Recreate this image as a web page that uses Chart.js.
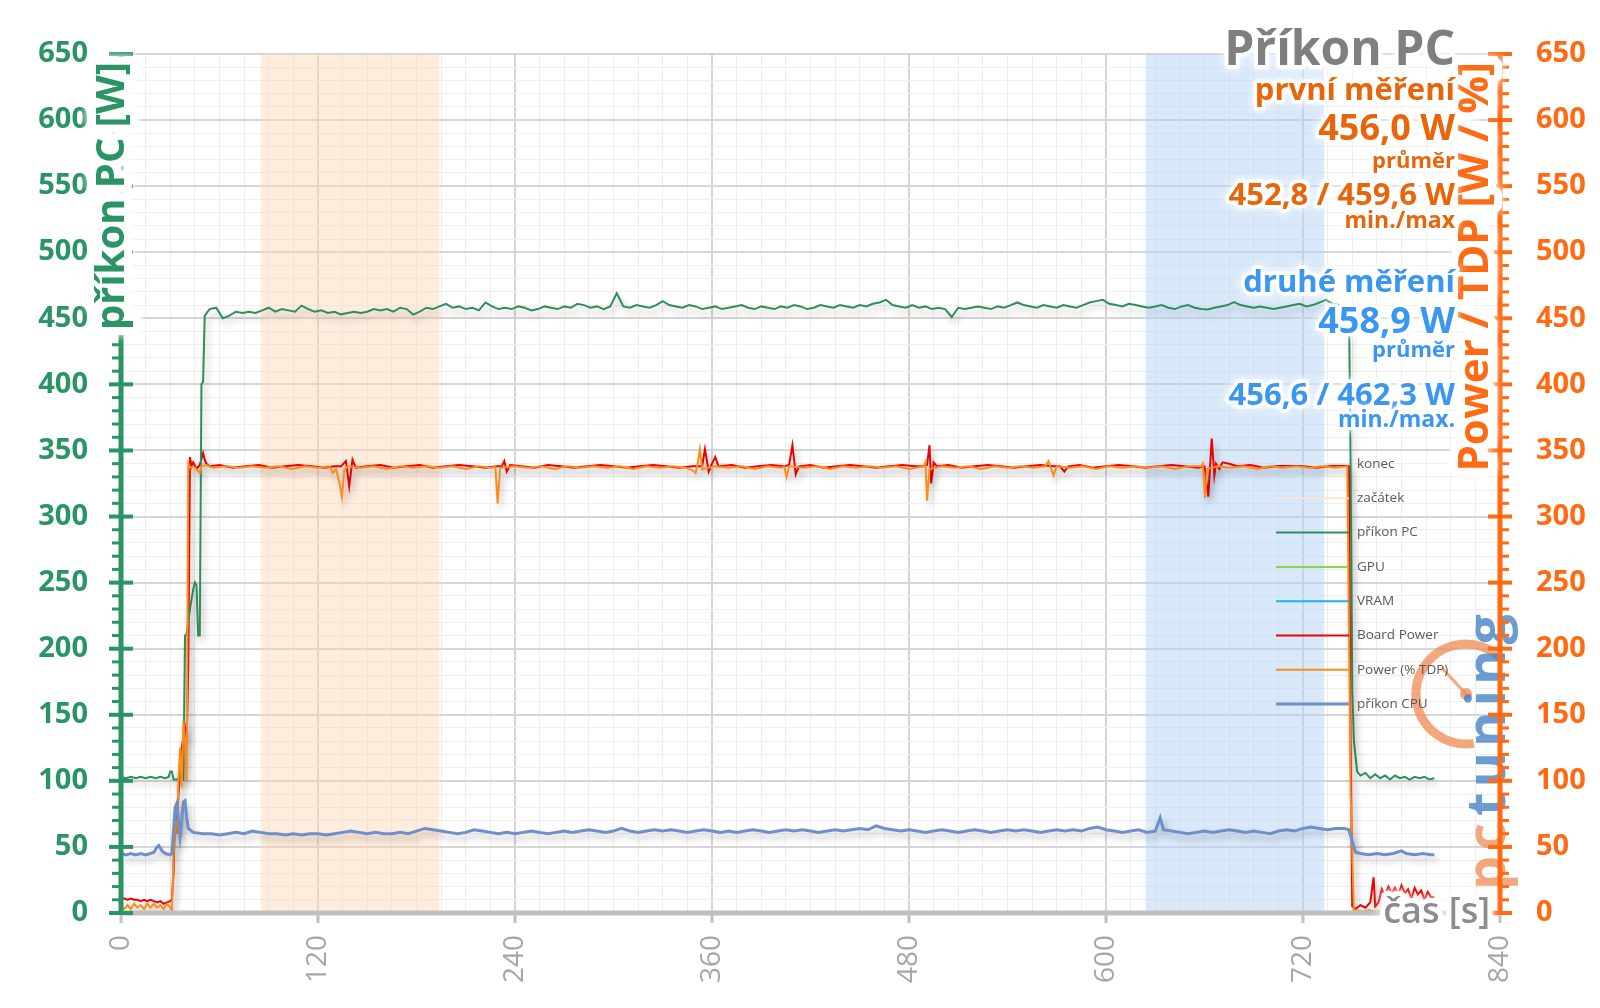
<!DOCTYPE html>
<html lang="cs">
<head>
<meta charset="utf-8">
<title>Příkon PC</title>
<script src="https://cdn.jsdelivr.net/npm/chart.js@4.4.1/dist/chart.umd.min.js"></script>
<style>
  html, body { margin: 0; padding: 0; background: #fff; }
  #wrap { width: 1600px; height: 1008px; }
</style>
</head>
<body>
<div id="wrap"><canvas id="powerChart" width="1600" height="1008"></canvas></div>
<script>
// axis ranges
const xMax = 840;
const yMax = 650;

// measurement windows [s, top]
const startBand = [[85, 650], [194, 650]];
const endBand = [[624, 650], [733, 650]];

// [čas s, W]
const pcPower = [
  [0,103],[3,102],[6,103],[9,102],[12,103],[15,102],[18,103],[21,102],[24,103],[27,102],[29,103],[30,107],[31,107],[32,101],[34,101],[36,102],[38,101],
  [39,210],[40,211],[42,230],[44,245],[45,250],[46,248],[47,210],[48,210],[49,400],[50,402],[51,452],
  [54,457],[58,458],[62,450],[66,452],[70,455],[74,454],[78,455],[82,454],[86,456],[90,458],
  [94,455],[98,457],[102,456],[106,455],[110,459.6],[114,457],[118,455],[122,456],[126,454],[130,455],
  [134,453],[138,454],[142,455],[146,454],[150,455],[154,457],[158,456],[162,457],[166,455],[170,458],
  [174,457],[178,452.8],[182,455],[186,458],[190,457],[194,459],[198,461],[202,458],[206,459],[210,457],
  [214,458],[218,456],[222,462],[226,459],[230,457],[234,458],[238,457],[242,459],[246,458],[250,456],
  [254,457],[258,459],[262,458],[266,457],[270,459],[274,458],[278,461],[282,460],[286,458],[290,459],
  [294,457],[298,459],[302,469],[306,459],[310,458],[314,460],[318,459],[322,458],[326,460],[330,463],
  [334,460],[338,459],[342,458],[346,460],[350,459],[354,457],[358,458],[362,459],[366,457],[370,458],
  [374,459],[378,460],[382,458],[386,457],[390,459],[394,458],[398,457],[402,459],[406,458],[410,460],
  [414,459],[418,457],[422,458],[426,460],[430,459],[434,458],[438,460],[442,459],[446,458],[450,460],
  [454,459],[458,461],[462,462],[466,464],[470,460],[474,459],[478,458],[482,460],[486,458],[490,459],
  [494,457],[498,458],[502,457],[506,451],[510,458],[514,457],[518,458],[522,459],[526,458],[530,457],
  [534,459],[538,458],[542,460],[546,462],[550,460],[554,459],[558,458],[562,460],[566,459],[570,458],
  [574,460],[578,459],[582,458],[586,460],[590,462],[594,463],[598,464],[602,461],[606,460],[610,459],
  [614,461],[618,460],[622,459],[626,458],[630,459],[634,460],[638,458],[642,457],[646,459],[650,460],
  [654,458],[658,457],[662,456.6],[666,458],[670,459],[674,460],[678,462.3],[682,460],[686,459],[690,458],
  [694,459],[698,458],[702,457],[706,458],[710,459],[714,460],[718,461],[722,459],[726,460],[730,462],
  [734,464],[738,461],[742,460],[746,459],[748,459],[749,340],[750,170],[751,130],[753,107],[755,104],
  [758,106],[761,102],[764,105],[767,102],[770,104],[773,101],[776,104],[779,102],[782,103],[785,101],
  [788,103],[791,102],[794,103],[797,101],[800,102]
];

const cpuPower = [
  [0,45],[3,44],[6,45],[9,44],[12,45],[15,44],[18,45],[20,46],[22,50],[23,51],[25,47],[27,45],[30,44],[31,45],
  [32,62],[33,80],[34,83],[35,70],[36,58],[37,70],[38,84],[39,85],[40,72],[41,64],[42,63],[44,61],
  [50,60],[55,60],[60,59],[65,60],[70,61],[75,60],[80,62],[85,61],[90,60],[95,60],[100,59],[105,60],
  [110,59],[115,60],[120,60],[125,59],[130,60],[135,61],[140,62],[145,61],[150,60],[155,61],[160,60],
  [165,60],[170,61],[175,60],[180,62],[185,64],[190,63],[195,62],[200,61],[205,60],[210,61],[215,63],
  [220,62],[225,61],[230,60],[235,61],[240,60],[245,61],[250,62],[255,61],[260,60],[265,61],[270,62],
  [275,61],[280,62],[285,63],[290,62],[295,61],[300,62],[305,64],[310,62],[315,61],[320,62],[325,63],
  [330,62],[335,63],[340,62],[345,61],[350,62],[355,63],[360,62],[365,61],[370,62],[375,61],[380,62],
  [385,63],[390,62],[395,61],[400,62],[405,63],[410,62],[415,63],[420,62],[425,61],[430,62],[435,63],
  [440,62],[445,63],[450,64],[455,63],[460,66],[465,64],[470,63],[475,62],[480,63],[485,62],[490,61],
  [495,62],[500,63],[505,62],[510,61],[515,62],[520,63],[525,62],[530,61],[535,62],[540,63],[545,62],
  [550,63],[555,62],[560,61],[565,62],[570,63],[575,62],[580,63],[585,62],[590,64],[595,65],[600,63],
  [605,62],[610,61],[615,62],[620,63],[625,61],[630,62],[633,72],[635,63],[640,62],[645,61],[650,60],
  [655,61],[660,62],[665,61],[670,62],[675,63],[680,62],[685,61],[690,62],[695,61],[700,60],[705,62],
  [710,63],[715,62],[720,64],[725,65],[730,64],[735,63],[740,64],[745,64],[748,63],[752,46],[755,45],
  [760,44],[765,45],[770,44],[775,45],[780,47],[783,45],[788,44],[793,45],[798,44],[800,44]
];

const boardPower = [
  [0,11],[2,11],[4,10],[6,11],[8,10],[10,10],[12,9],[14,10],[16,9],[18,10],[20,9],[22,8],[24,9],[26,7],[28,8],[30,9],[31,10],
  [32,30],[33,80],[34,60],[35,90],[37,125],[39,140],[40,130],[41,190],[42,345],[43,338],[44,341],[46,336],[48,339],[50,348],[51,343],
  [52,340],[54,338],[60,339],[68,337],[76,338],[84,339],[92,337],[100,338],[108,339],[116,338],[124,337],[130,338],
  [134,338],[137,342],[139,323],[141,343],[143,337],[150,338],[158,339],[166,337],[174,338],[182,339],[190,337],
  [198,338],[206,339],[214,338],[222,337],[229,338],[232,338],[233.5,342],[235,334],[237,339],[244,338],[252,337],
  [260,339],[268,338],[276,337],[284,338],[292,339],[300,338],[308,337],[316,338],[324,339],[332,338],[340,337],
  [348,338],[354,338],[355.7,351],[358,334],[360,340],[362,345],[364,338],[372,339],[380,337],[388,338],[396,339],
  [404,338],[407,339],[409,354],[411,332],[413,338],[420,339],[428,337],[436,338],[444,339],[452,338],[460,337],
  [468,338],[476,339],[484,338],[489,338],[491,339],[492.5,354],[493.5,325],[495,341],[497,338],[504,339],[512,337],
  [520,338],[528,339],[536,338],[544,337],[552,338],[560,339],[568,338],[572,338],[574.6,334],[577,338],[584,339],
  [592,337],[600,338],[608,339],[616,338],[624,337],[632,338],[640,339],[648,338],[656,337],[660,338],[662.3,315],
  [664.4,359],[666,331],[667,340],[669,336],[671,341],[675,340],[680,338],[688,339],[696,337],[704,338],[712,339],
  [720,338],[728,337],[736,338],[744,339],[748,338],[749,130],[750,5],[752,3],[755,6],[758,4],[761,8],[763,27],
  [764,5],[766,8],[768,18],[770,13],[772,20],[774,15],[776,19],[778,14],[780,21],[782,15],[784,18],[786,11],
  [788,19],[790,14],[792,17],[794,10],[796,16],[798,12],[800,12]
];

const tdpPower = [
  [0,6],[2,3],[4,6],[6,3],[8,7],[10,4],[12,6],[14,3],[16,7],[18,4],[20,7],[22,4],[24,6],[26,3],[28,7],[30,4],[31,2],
  [32,40],[33,70],[34,60],[35,100],[36,125],[37,95],[38,145],[39,130],[40,100],[41,340],[42,337],[44,338],[46,336],[48,333],[49,338],
  [52,339],[56,337],[64,338],[72,337],[80,338],[88,337],[96,338],[104,336],[112,338],[120,337],[127,338],
  [129,333],[131,336],[133,326],[134.6,315],[136,335],[138,338],[146,337],[154,338],[162,336],[170,338],[178,337],
  [186,338],[194,337],[202,338],[210,336],[218,338],[226,337],[228,338],[229.4,310],[231,337],[240,338],[248,337],
  [256,338],[264,336],[272,338],[280,337],[288,338],[296,337],[304,338],[312,336],[320,338],[328,337],[336,338],
  [344,337],[348,335],[350,333],[351,338],[352.6,351],[354,336],[362,338],[370,337],[378,338],[386,336],[394,338],
  [402,337],[404,338],[405.4,330],[407,338],[416,337],[424,338],[432,336],[440,338],[448,337],[456,338],[464,337],
  [472,338],[480,336],[489,338],[490,341],[491,312],[492.5,336],[500,338],[508,337],[516,338],[524,336],[532,338],
  [540,337],[548,338],[556,337],[563,338],[565,342],[568,331],[570,338],[578,337],[586,338],[594,336],[602,338],
  [610,337],[618,338],[626,337],[634,338],[642,336],[650,338],[658,338],[659,340],[660.3,314],[661.5,336],[668,338],
  [676,337],[684,338],[692,336],[700,338],[708,337],[716,338],[724,337],[732,338],[740,337],[747,338],[749,90],
  [751,2],[753,2],[756,1],[760,2],[765,1],[770,2],[775,1],[780,2],[785,1],[790,2],[795,1],[800,1]
];

const gpuPower = [];
const vramPower = [];

const legendOrder = ['konec', 'začátek', 'příkon PC', 'GPU', 'VRAM', 'Board Power', 'Power (% TDP)', 'příkon CPU'];

const GREEN = '#2a9464';
const ORANGE = '#ff6a13';
const TXT_ORANGE = '#e8650a';
const TXT_BLUE = '#3a97f0';
const FONT = '"Open Sans", "DejaVu Sans", sans-serif';

const toPts = arr => arr.map(([x, y]) => ({ x, y }));

function haloText(ctx, text, x, y, font, color, align, halo) {
  ctx.save();
  ctx.font = font;
  ctx.textAlign = align;
  ctx.textBaseline = 'alphabetic';
  ctx.lineJoin = 'round';
  ctx.strokeStyle = '#ffffff';
  ctx.shadowColor = 'rgba(255,255,255,1)';
  ctx.shadowBlur = 8;
  ctx.lineWidth = halo || 7;
  ctx.strokeText(text, x, y);
  ctx.shadowBlur = 0;
  ctx.fillStyle = color;
  ctx.fillText(text, x, y);
  ctx.restore();
}

// soft shadow under the measured lines
const lineShadow = {
  id: 'lineShadow',
  beforeDatasetDraw(chart, args) {
    const ds = chart.data.datasets[args.index];
    if (!ds.shadow) return;
    const ctx = chart.ctx;
    ctx.save();
    ctx.shadowColor = 'rgba(0,0,0,0.26)';
    ctx.shadowBlur = 7;
    ctx.shadowOffsetX = 3;
    ctx.shadowOffsetY = 5;
  },
  afterDatasetDraw(chart, args) {
    const ds = chart.data.datasets[args.index];
    if (ds.shadow) chart.ctx.restore();
  }
};

const overlay = {
  id: 'overlay',
  afterDatasetsDraw(chart) {
    const { ctx, chartArea: a, scales: { y, y2 } } = chart;

    // pctuning watermark
    ctx.save();
    ctx.globalAlpha = 0.75;
    ctx.strokeStyle = '#f08a50';
    ctx.lineWidth = 9;
    ctx.beginPath();
    ctx.arc(1466, 694, 50, 0.45 * Math.PI, 1.75 * Math.PI);
    ctx.stroke();
    ctx.lineWidth = 3;
    ctx.beginPath();
    ctx.moveTo(1466, 694);
    ctx.lineTo(1442, 668);
    ctx.stroke();
    ctx.fillStyle = '#f08a50';
    ctx.beginPath();
    ctx.arc(1466, 694, 6, 0, Math.PI * 2);
    ctx.fill();
    ctx.translate(1505, 816);
    ctx.rotate(-Math.PI / 2);
    ctx.font = 'bold 54px ' + FONT;
    ctx.letterSpacing = '5px';
    ctx.textBaseline = 'alphabetic';
    ctx.textAlign = 'left';
    ctx.fillStyle = '#3a7cc6';
    ctx.fillText('tuning', 0, 0);
    ctx.textAlign = 'right';
    ctx.fillStyle = '#f08a50';
    ctx.fillText('pc', -2, 0);
    ctx.restore();

    // x axis line
    ctx.save();
    ctx.lineCap = 'butt';
    ctx.strokeStyle = '#c0c0c0';
    ctx.lineWidth = 5;
    ctx.beginPath();
    ctx.moveTo(a.left, a.bottom);
    ctx.lineTo(a.right, a.bottom);
    ctx.stroke();

    // left axis (green) and right axis (orange) with ticks
    const drawAxis = (scale, px, color, side) => {
      ctx.strokeStyle = color;
      ctx.lineWidth = 5;
      ctx.beginPath();
      ctx.moveTo(px, a.bottom + 2);
      ctx.lineTo(px, a.top);
      ctx.stroke();
      for (let v = 0; v <= yMax; v += 10) {
        const py = scale.getPixelForValue(v);
        ctx.beginPath();
        if (v % 50 === 0) {
          ctx.lineWidth = 4;
          ctx.moveTo(px - 12, py);
          ctx.lineTo(px + 12, py);
        } else {
          ctx.lineWidth = 3;
          ctx.moveTo(px, py);
          ctx.lineTo(px + side * 9, py);
        }
        ctx.stroke();
      }
    };
    drawAxis(y, a.left, GREEN, -1);
    drawAxis(y2, a.right, ORANGE, 1);
    ctx.restore();
  },
  afterDraw(chart) {
    const { ctx } = chart;

    // axis titles
    ctx.save();
    ctx.translate(124, 62);
    ctx.rotate(-Math.PI / 2);
    haloText(ctx, 'příkon PC [W]', 0, 0, 'bold 40px ' + FONT, GREEN, 'right', 16);
    ctx.restore();

    ctx.save();
    ctx.translate(1488, 62);
    ctx.rotate(-Math.PI / 2);
    haloText(ctx, 'Power / TDP [W / %]', 0, 0, 'bold 42px ' + FONT, ORANGE, 'right', 16);
    ctx.restore();

    haloText(ctx, 'čas [s]', 1490, 923, '600 36px ' + FONT, '#8c8c8c', 'right', 10);

    // headline block
    const rx = 1455;
    haloText(ctx, 'Příkon PC', rx, 65, 'bold 48px ' + FONT, '#7f7f7f', 'right', 8);
    haloText(ctx, 'první měření', rx, 100, 'bold 31px ' + FONT, TXT_ORANGE, 'right', 7);
    haloText(ctx, '456,0 W', rx, 140, 'bold 36px ' + FONT, TXT_ORANGE, 'right', 7);
    haloText(ctx, 'průměr', rx, 168, 'bold 22px ' + FONT, TXT_ORANGE, 'right', 6);
    haloText(ctx, '452,8 / 459,6 W', rx, 205, 'bold 31px ' + FONT, TXT_ORANGE, 'right', 7);
    haloText(ctx, 'min./max', rx, 228, 'bold 23px ' + FONT, TXT_ORANGE, 'right', 6);
    haloText(ctx, 'druhé měření', rx, 292, 'bold 31px ' + FONT, TXT_BLUE, 'right', 7);
    haloText(ctx, '458,9 W', rx, 333, 'bold 36px ' + FONT, TXT_BLUE, 'right', 7);
    haloText(ctx, 'průměr', rx, 357, 'bold 22px ' + FONT, TXT_BLUE, 'right', 6);
    haloText(ctx, '456,6 / 462,3 W', rx, 405, 'bold 31px ' + FONT, TXT_BLUE, 'right', 7);
    haloText(ctx, 'min./max.', rx, 427, 'bold 23px ' + FONT, TXT_BLUE, 'right', 6);

    // legend
    ctx.save();
    ctx.font = '13.5px ' + FONT;
    ctx.textBaseline = 'middle';
    ctx.textAlign = 'left';
    legendOrder.forEach((name, i) => {
      const ds = chart.data.datasets.find(d => d.label === name);
      const ly = 464 + i * 34.3;
      ctx.strokeStyle = ds.legendColor || ds.borderColor;
      ctx.lineWidth = ds.legendWidth || ds.borderWidth;
      ctx.beginPath();
      ctx.moveTo(1276, ly);
      ctx.lineTo(1349, ly);
      ctx.stroke();
      ctx.fillStyle = '#595959';
      ctx.fillText(name, 1357, ly);
    });
    ctx.restore();
  }
};

const lineDs = (label, arr, color, width, axis, order) => ({
  label, data: toPts(arr), yAxisID: axis, borderColor: color, borderWidth: width,
  pointRadius: 0, pointHoverRadius: 0, tension: 0, fill: false, shadow: true, order
});

const datasets = [
  { label: 'konec', data: toPts(endBand), yAxisID: 'y', borderWidth: 0, borderColor: 'rgba(0,0,0,0)',
    backgroundColor: 'rgba(180,212,245,0.5)', fill: 'origin', pointRadius: 0, order: 10,
    legendColor: '#dbe8f6', legendWidth: 2 },
  { label: 'začátek', data: toPts(startBand), yAxisID: 'y', borderWidth: 0, borderColor: 'rgba(0,0,0,0)',
    backgroundColor: 'rgba(252,213,180,0.45)', fill: 'origin', pointRadius: 0, order: 10,
    legendColor: '#fbe3d0', legendWidth: 2 },
  lineDs('příkon PC', pcPower, '#2f8f5b', 2, 'y', 3),
  lineDs('GPU', gpuPower, '#92d050', 2, 'y2', 5),
  lineDs('VRAM', vramPower, '#1fb1ea', 2, 'y2', 5),
  lineDs('Board Power', boardPower, '#f00000', 2, 'y2', 4),
  lineDs('Power (% TDP)', tdpPower, '#ff8c1a', 2, 'y2', 2),
  lineDs('příkon CPU', cpuPower, '#6f8fc8', 3, 'y', 1)
];

const isMajor = (ctx, step) => ctx.tick && Math.round(ctx.tick.value) % step === 0;

new Chart(document.getElementById('powerChart'), {
  type: 'line',
  data: { datasets },
  options: {
    responsive: false,
    animation: false,
    devicePixelRatio: 1,
    events: [],
    layout: { padding: { top: 54, left: 0, right: 0, bottom: 0 } },
    plugins: { legend: { display: false }, tooltip: { enabled: false } },
    scales: {
      x: {
        type: 'linear', min: 0, max: xMax,
        afterFit: s => { s.height = 95; },
        border: { display: false },
        grid: {
          color: c => isMajor(c, 120) ? '#d6d6d6' : '#eeeeee',
          lineWidth: c => isMajor(c, 120) ? 2 : 1,
          tickLength: 10,
          tickWidth: 3,
          tickColor: c => isMajor(c, 120) ? '#c0c0c0' : 'rgba(0,0,0,0)'
        },
        ticks: {
          stepSize: 15, autoSkip: false, minRotation: 90, maxRotation: 90, padding: 12,
          color: '#a6a6a6', font: { family: FONT, size: 28 },
          callback: v => (v % 120 === 0 ? String(v) : '')
        }
      },
      y: {
        type: 'linear', position: 'left', min: 0, max: yMax,
        afterFit: s => { s.width = 121; },
        border: { display: false },
        grid: {
          color: c => isMajor(c, 50) ? '#d6d6d6' : '#efefef',
          lineWidth: c => isMajor(c, 50) ? 2 : 1,
          drawTicks: false
        },
        ticks: {
          stepSize: 10, autoSkip: false, padding: 33, color: GREEN,
          font: { family: FONT, size: 29, weight: 'bold' },
          callback: v => (v % 50 === 0 ? String(v) : '')
        }
      },
      y2: {
        type: 'linear', position: 'right', min: 0, max: yMax,
        afterFit: s => { s.width = 100; },
        border: { display: false },
        grid: { drawOnChartArea: false, drawTicks: false },
        ticks: {
          stepSize: 10, autoSkip: false, padding: 36, color: ORANGE,
          font: { family: FONT, size: 29, weight: 'bold' },
          callback: v => (v % 50 === 0 ? String(v) : '')
        }
      }
    }
  },
  plugins: [lineShadow, overlay]
});
</script>
</body>
</html>
